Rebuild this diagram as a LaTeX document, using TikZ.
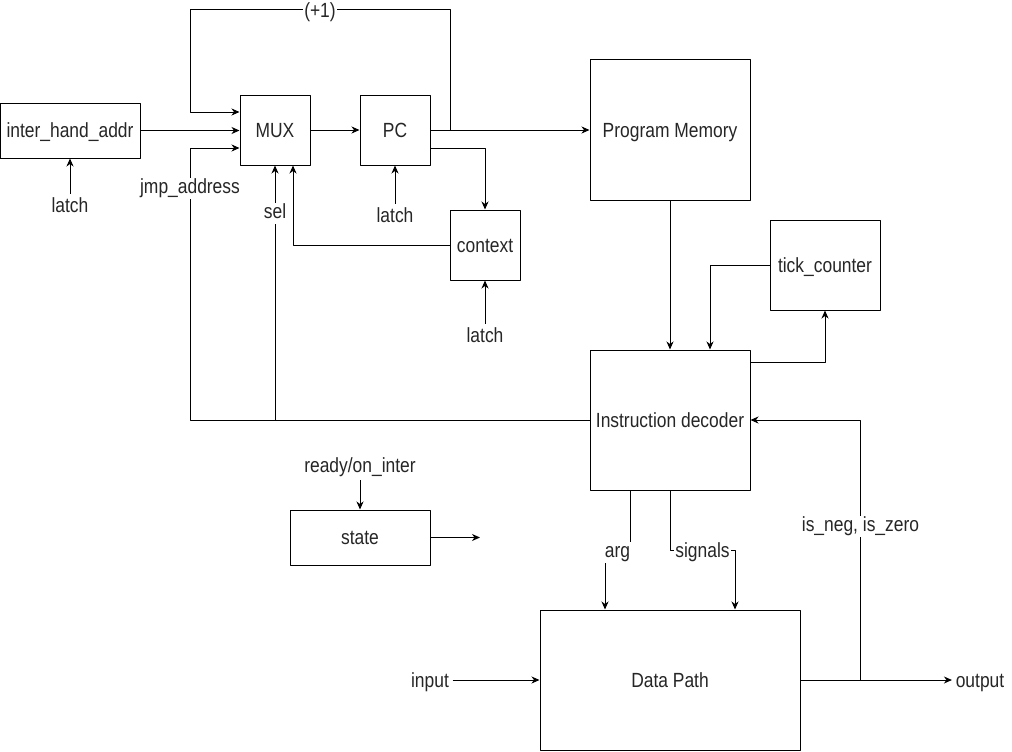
\documentclass[tikz,border=0pt]{standalone}
\usepackage{fontspec}
\setmainfont{Liberation Sans}[FakeStretch=0.85]
\usetikzlibrary{arrows.meta}

\begin{document}
\begin{tikzpicture}[x=1pt, y=-1pt, line width=1pt, line join=round,
	font=\fontsize{20.5}{24}\selectfont, text=black!85,
	>={Stealth[length=8pt,width=7pt,inset=2.5pt]},
	block/.style={draw, fill=white, inner sep=0pt, text height=14.7pt, text depth=0pt},
	txt/.style={text height=14.7pt, text depth=4.3pt, yshift=-5.2pt+7.35pt-4.3pt},
	lbl/.style={txt, fill=white, inner sep=1pt}]
	\useasboundingbox (0,0) rectangle (1012,752);
	% blocks
	\node[block, minimum width=140, minimum height=55] (iha) at (70,130.5) {inter\_hand\_addr};
	\node[block, minimum width=70, minimum height=70] (mux) at (275,130) {MUX};
	\node[block, minimum width=70, minimum height=70] (pc) at (395,130) {PC};
	\node[block, minimum width=70, minimum height=70] (ctx) at (485,245) {context};
	\node[block, minimum width=160, minimum height=140] (pm) at (670,130) {Program Memory};
	\node[block, minimum width=110, minimum height=90] (tc) at (825,265) {tick\_counter};
	\node[block, minimum width=160, minimum height=140] (id) at (670,420) {Instruction decoder};
	\node[block, minimum width=140, minimum height=55] (st) at (360,537.5) {state};
	\node[block, minimum width=260, minimum height=140] (dp) at (670,680) {Data Path};
	% free texts
	\node[txt] (l1) at (70,205) {latch};
	\node[txt] (l2) at (395,215) {latch};
	\node[txt] (l3) at (485,335) {latch};
	\node[txt] (rdy) at (360,465) {ready/on\_inter};
	\node[txt] (in) at (430,680) {input};
	\node[txt] (out) at (980,680) {output};
	\coordinate (stout) at (480,537.5);
	\coordinate (jmp) at (190,420);
	
	% upper part
	\draw[->] (iha.east) -- (iha.east -| mux.west);
	\draw[->] (mux) -- (pc);
	\draw[->] (pc.east) -| (450,10) -- node[lbl]{(+1)} (190,10) |- ([yshift=18]mux.west);
	\draw[->] (pc.east) -- (pc.east -| pm.west);
	\draw[->] ([yshift=-18]pc.east) -| (ctx.north);
	\draw[->] (ctx.west) -| ([xshift=18]mux.south);
	\draw[->] (id.west) -- (jmp) -- node[lbl, pos=0.86]{jmp\_address} (jmp |- 0,148) -- ([yshift=-18]mux.west);
	\draw[->] (id.west -| mux.south) -- node[lbl, pos=0.82]{sel} (mux.south);
	\draw[->] (l1) -- (l1 |- iha.south);
	\draw[->] (l2) -- (pc.south);
	\draw[->] (l3) -- (ctx.south);
	
	% decoder
	\draw[->] (pm.south) -- (id.north);
	\draw[->] (tc.west) -| ([xshift=40]id.north);
	\draw[->] ([yshift=58]id.east) -| (tc.south);
	\draw[->] ([xshift=-40]id.south) -- ++(0,60) -- node[lbl]{arg} ++(-25,0) -- ([xshift=-65]dp.north);
	\draw[->] (id.south) -- ++(0,60) -- node[lbl]{signals} ++(65,0) -- ([xshift=65]dp.north);
	\draw[->] (dp.east) -- ++(60,0) |- node[lbl, pos=0.3]{is\_neg, is\_zero} (id.east);
	\draw[->] (dp.east) -- (dp.east -| out.west);
	\draw[->] (dp.west -| in.east) -- (dp.west);
	
	% state
	\draw[->] (rdy) -- (st.north);
	\draw[->] (st.east) -- (stout);
\end{tikzpicture}
\end{document}
